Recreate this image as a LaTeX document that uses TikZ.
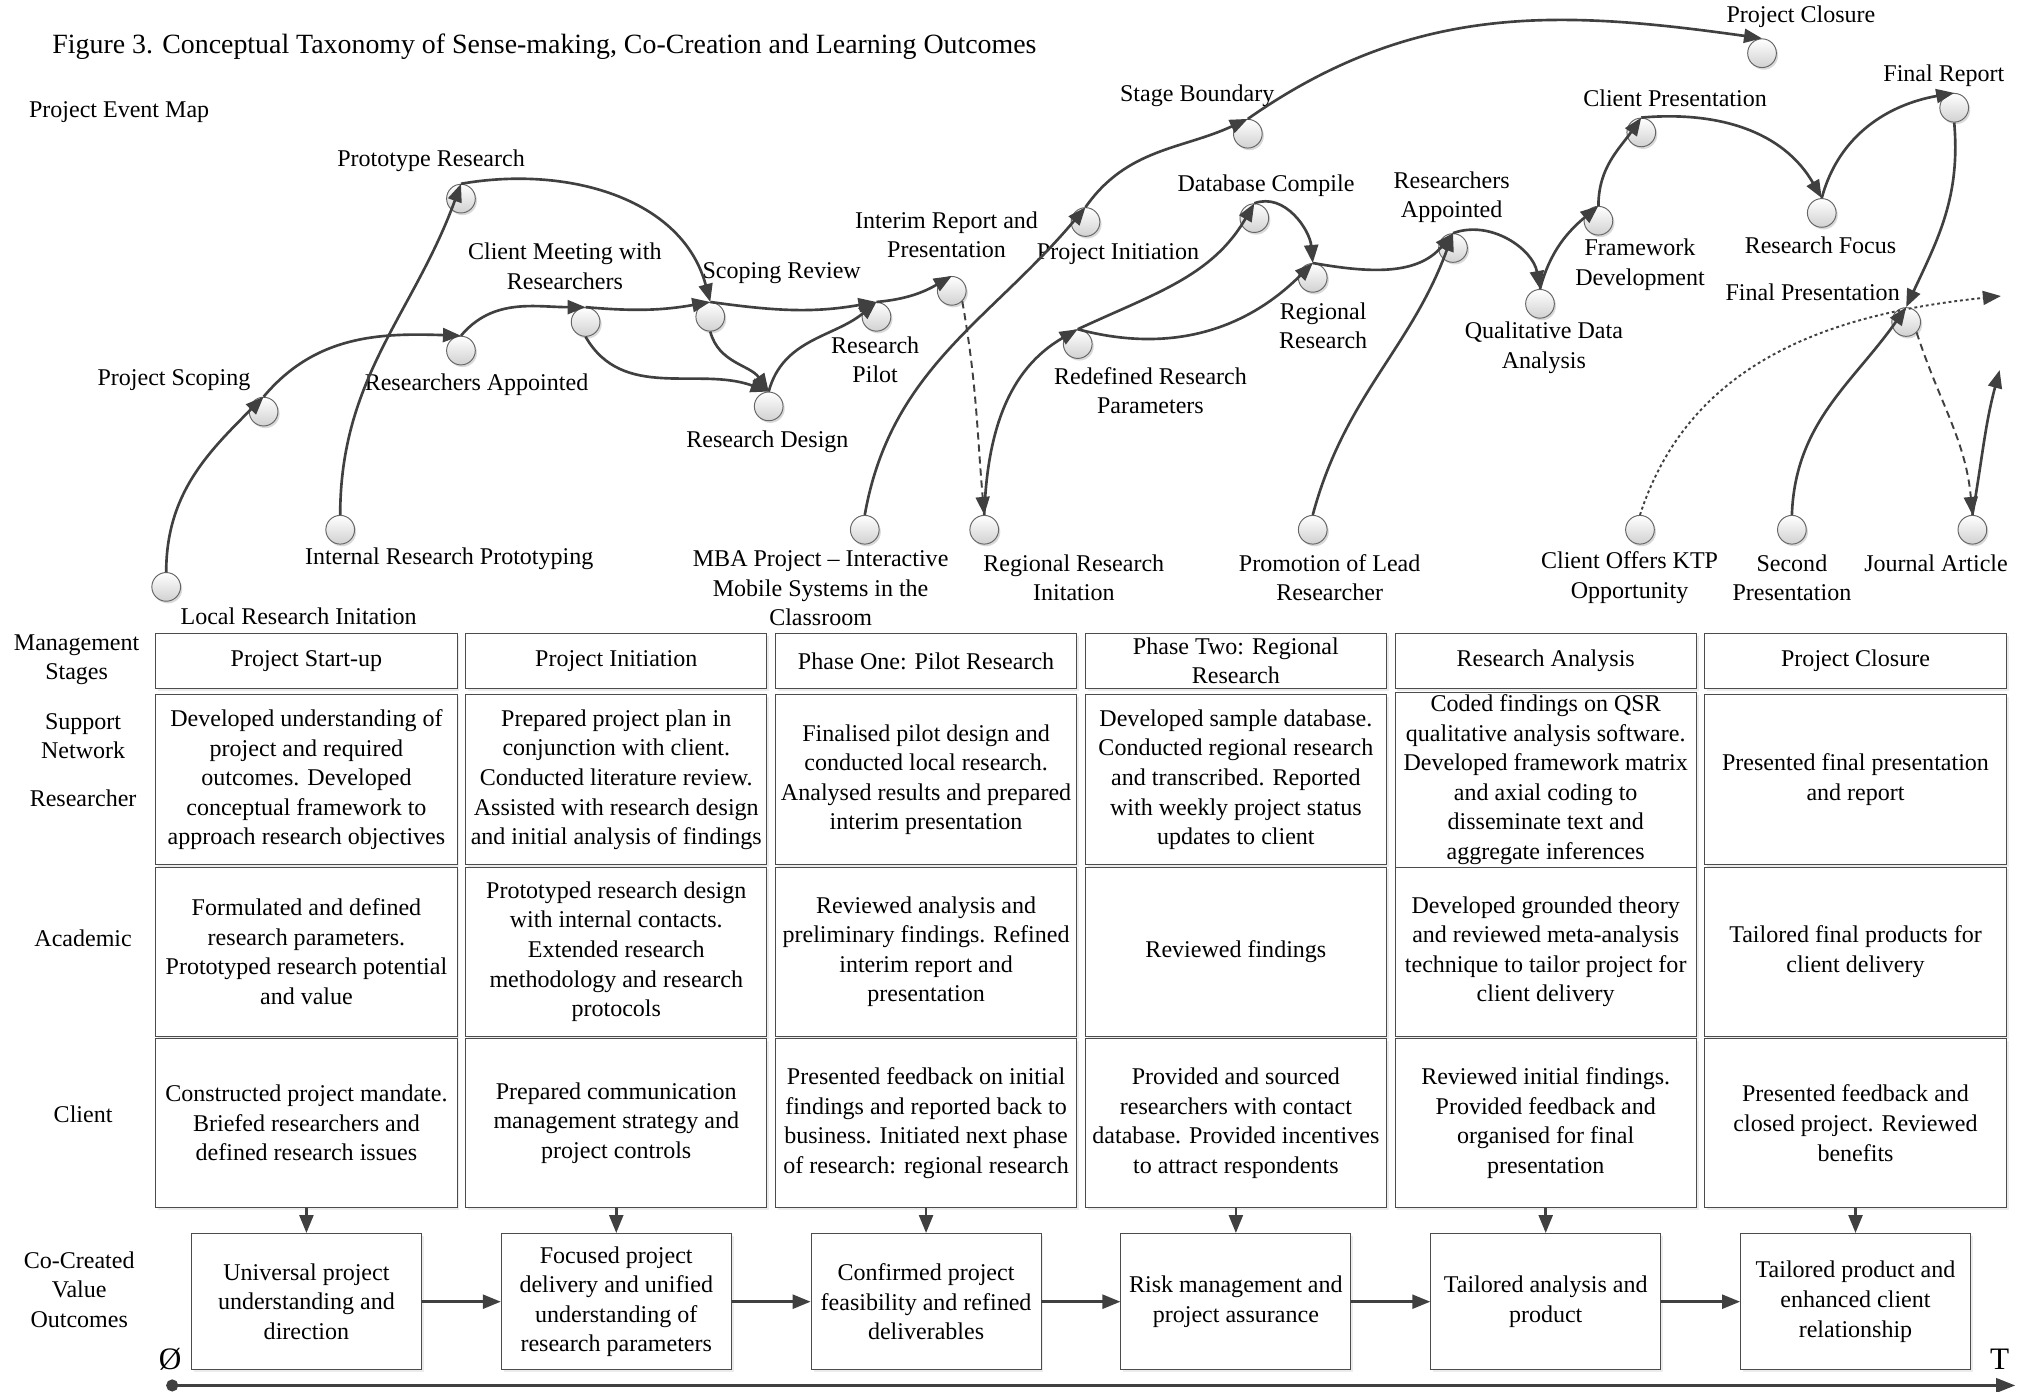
\documentclass[tikz,border=0pt]{standalone}
\usepackage{fontspec}
\setmainfont{Liberation Serif}
\usetikzlibrary{arrows.meta,shadows}

\tikzset{
  event/.style={circle, draw=black!60, minimum size=0.42cm, inner sep=0pt,
    top color=white, bottom color=black!18,
    drop shadow={shadow xshift=0.7pt, shadow yshift=-0.9pt, opacity=0.3}},
  elabel/.style={align=center, inner sep=0pt},
  link/.style={draw=black!75, line width=1.1pt, -{Triangle[length=7.5pt,width=5.8pt]}},
  dlink/.style={link, line width=0.8pt, dash pattern=on 3pt off 2pt},
  olink/.style={link, line width=0.8pt, dash pattern=on 1.2pt off 1.2pt},
  cell/.style={draw=black!70, fill=white, align=center, inner sep=1pt,
    minimum width=4.408cm,
    drop shadow={shadow xshift=1pt, shadow yshift=-1pt, opacity=0.15}},
  headcell/.style={cell, minimum height=0.798cm},
  rowcell/.style={cell, minimum height=2.48cm},
  outcome/.style={cell, minimum width=3.363cm, minimum height=1.995cm},
  rowname/.style={align=center, inner sep=0pt}
}

\begin{document}
\begin{tikzpicture}[x=0.019cm, y=0.019cm, font=\fontsize{10}{12.3}\selectfont]
\useasboundingbox (0,0) rectangle (1568,1072);

% headings
\node[anchor=west, inner sep=0pt, font=\fontsize{11.6}{14}\selectfont] (title) at (40,1036)
  {Figure 3. Conceptual Taxonomy of Sense-making, Co-Creation and Learning Outcomes};
\node[anchor=west, inner sep=0pt] (mapname) at (22,986) {Project Event Map};

% project events
\node[event] (lri) at (128,620) {};
\node[event] (psc) at (203,755) {};
\node[event] (rap) at (355,802) {};
\node[event] (prr) at (355,919) {};
\node[event] (irp) at (262,664) {};
\node[event] (cmr) at (451,824) {};
\node[event] (scr) at (547,828) {};
\node[event] (rde) at (592,759) {};
\node[event] (rpi) at (675,828) {};
\node[event] (irr) at (733,848) {};
\node[event] (mba) at (666,664) {};
\node[event] (rri) at (758,664) {};
\node[event] (pin) at (836,901) {};
\node[event] (sbo) at (961,969) {};
\node[event] (rrp) at (830,807) {};
\node[event] (dbc) at (966,904) {};
\node[event] (rre) at (1011,858) {};
\node[event] (plr) at (1011,664) {};
\node[event] (rap2) at (1119,881) {};
\node[event] (qda) at (1186,838) {};
\node[event] (fde) at (1231,902) {};
\node[event] (cpr) at (1264,970) {};
\node[event] (pcl) at (1357,1031) {};
\node[event] (rfo) at (1403,908) {};
\node[event] (fre) at (1505,989) {};
\node[event] (fpr) at (1468,824) {};
\node[event] (ktp) at (1263,664) {};
\node[event] (spr) at (1380,664) {};
\node[event] (jar) at (1519,664) {};

% event labels
\node[elabel] (lri-l) at (230,597) {Local Research Initation};
\node[elabel] (psc-l) at (134,779) {Project Scoping};
\node[elabel] (rap-l) at (367,776) {Researchers Appointed};
\node[elabel] (prr-l) at (332,948) {Prototype Research};
\node[elabel] (irp-l) at (346,642) {Internal Research Prototyping};
\node[elabel] (cmr-l) at (435,867) {Client Meeting with\\Researchers};
\node[elabel] (scr-l) at (602,862) {Scoping Review};
\node[elabel] (rde-l) at (591,732) {Research Design};
\node[elabel] (rpi-l) at (674,795) {Research\\Pilot};
\node[elabel] (irr-l) at (729,891) {Interim Report and\\Presentation};
\node[elabel] (mba-l) at (632,619) {MBA Project -- Interactive\\Mobile Systems in the\\Classroom};
\node[elabel] (rri-l) at (827,627) {Regional Research\\Initation};
\node[elabel] (pin-l) at (861,876) {Project Initiation};
\node[elabel] (sbo-l) at (922,998) {Stage Boundary};
\node[elabel] (rrp-l) at (886,771) {Redefined Research\\Parameters};
\node[elabel] (dbc-l) at (975,929) {Database Compile};
\node[elabel] (rre-l) at (1019,821) {Regional\\Research};
\node[elabel] (plr-l) at (1024,627) {Promotion of Lead\\Researcher};
\node[elabel] (rap2-l) at (1118,920) {Researchers\\Appointed};
\node[elabel] (qda-l) at (1189,804) {Qualitative Data\\Analysis};
\node[elabel] (fde-l) at (1263,868) {Framework\\Development};
\node[elabel] (cpr-l) at (1290,996) {Client Presentation};
\node[elabel] (pcl-l) at (1387,1059) {Project Closure};
\node[elabel] (rfo-l) at (1402,883) {Research Focus};
\node[elabel] (fre-l) at (1497,1014) {Final Report};
\node[elabel] (fpr-l) at (1396,847) {Final Presentation};
\node[elabel] (ktp-l) at (1255,627) {Client Offers KTP\\Opportunity};
\node[elabel] (spr-l) at (1380,627) {Second\\Presentation};
\node[elabel] (jar-l) at (1491,638) {Journal Article};

% free ends
\coordinate (ktp-end) at (1541,844);
\coordinate (jar-end) at (1540,787);

% event links
\draw[link] (lri.north) to[out=90, in=225] (psc.north);
\draw[link] (psc.north) to[out=50, in=178] (rap.north);
\draw[link] (irp.north) to[out=90, in=250] (prr.north);
\draw[link] (rap.north) to[out=50, in=180] (cmr.north);
\draw[link] (prr.north) to[out=10, in=105] (scr.north);
\draw[link] (cmr.north) to[out=-5, in=190] (scr.north);
\draw[link] (cmr.south) to[out=-60, in=160] (rde.north);
\draw[link] (scr.south) to[out=-75, in=125] (rde.north);
\draw[link] (scr.north) to[out=-8, in=190] (rpi.north);
\draw[link] (rde.north) to[out=75, in=220] (rpi.north);
\draw[link] (rpi.north) to[out=5, in=210] (irr.north);
\draw[dlink] (irr.south east) to[out=-80, in=95] (rri.north);
\draw[link] (mba.north) to[out=80, in=230] (pin.north);
\draw[link] (pin.north) to[out=55, in=205] (sbo.north);
\draw[link] (sbo.north) to[out=35, in=172] (pcl.north);
\draw[link] (rri.north) to[out=88, in=210] (rrp.north);
\draw[link] (rrp.north) to[out=25, in=240] (dbc.north);
\draw[link] (rrp.north) to[out=-15, in=225] (rre.north);
\draw[link] (dbc.north) to[out=20, in=95] (rre.north);
\draw[link] (rre.north) to[out=-10, in=230] (rap2.north);
\draw[link] (plr.north) to[out=75, in=250] (rap2.north);
\draw[link] (rap2.north) to[out=20, in=100] (qda.north);
\draw[link] (qda.north) to[out=75, in=220] (fde.north);
\draw[link] (fde.north) to[out=90, in=235] (cpr.north);
\draw[link] (cpr.north) to[out=5, in=120] (rfo.north);
\draw[link] (rfo.north) to[out=75, in=190] (fre.north);
\draw[link] (fre.south) to[out=-85, in=65] (fpr.north);
\draw[olink] (ktp.north) to[out=72, in=186] (ktp-end);
\draw[link] (spr.north) to[out=88, in=235] (fpr.north);
\draw[dlink] (fpr.south east) to[out=-72, in=95] (jar.north);
\draw[link] (jar.north) to[out=80, in=255] (jar-end);

% row names
\node[rowname] (n-stage) at (59,564) {Management\\Stages};
\node[rowname] (n-support) at (64,505) {Support\\Network};
\node[rowname] (n-res) at (64,457) {Researcher};
\node[rowname] (n-acad) at (64,349) {Academic};
\node[rowname] (n-client) at (64,214) {Client};
\node[rowname] (n-value) at (61,79) {Co-Created\\Value\\Outcomes};

% management stages
\node[headcell] (h1) at (236,563) {Project Start-up};
\node[headcell] (h2) at (474.6,563) {Project Initiation};
\node[headcell] (h3) at (713.2,563) {Phase One: Pilot Research};
\node[headcell] (h4) at (951.8,563) {Phase Two: Regional\\Research};
\node[headcell] (h5) at (1190.4,563) {Research Analysis};
\node[headcell] (h6) at (1429,563) {Project Closure};

% researcher
\node[rowcell] (r1) at (236,471.5) {Developed understanding of\\project and required\\outcomes. Developed\\conceptual framework to\\approach research objectives};
\node[rowcell] (r2) at (474.6,471.5) {Prepared project plan in\\conjunction with client.\\Conducted literature review.\\Assisted with research design\\and initial analysis of findings};
\node[rowcell] (r3) at (713.2,471.5) {Finalised pilot design and\\conducted local research.\\Analysed results and prepared\\interim presentation};
\node[rowcell] (r4) at (951.8,471.5) {Developed sample database.\\Conducted regional research\\and transcribed. Reported\\with weekly project status\\updates to client};
\node[rowcell] (r5) at (1190.4,471.5) {Coded findings on QSR\\qualitative analysis software.\\Developed framework matrix\\and axial coding to\\disseminate text and\\aggregate inferences};
\node[rowcell] (r6) at (1429,471.5) {Presented final presentation\\and report};

% academic
\node[rowcell] (a1) at (236,339) {Formulated and defined\\research parameters.\\Prototyped research potential\\and value};
\node[rowcell] (a2) at (474.6,339) {Prototyped research design\\with internal contacts.\\Extended research\\methodology and research\\protocols};
\node[rowcell] (a3) at (713.2,339) {Reviewed analysis and\\preliminary findings. Refined\\interim report and\\presentation};
\node[rowcell] (a4) at (951.8,339) {Reviewed findings};
\node[rowcell] (a5) at (1190.4,339) {Developed grounded theory\\and reviewed meta-analysis\\technique to tailor project for\\client delivery};
\node[rowcell] (a6) at (1429,339) {Tailored final products for\\client delivery};

% client
\node[rowcell] (c1) at (236,207) {Constructed project mandate.\\Briefed researchers and\\defined research issues};
\node[rowcell] (c2) at (474.6,207) {Prepared communication\\management strategy and\\project controls};
\node[rowcell] (c3) at (713.2,207) {Presented feedback on initial\\findings and reported back to\\business. Initiated next phase\\of research: regional research};
\node[rowcell] (c4) at (951.8,207) {Provided and sourced\\researchers with contact\\database. Provided incentives\\to attract respondents};
\node[rowcell] (c5) at (1190.4,207) {Reviewed initial findings.\\Provided feedback and\\organised for final\\presentation};
\node[rowcell] (c6) at (1429,207) {Presented feedback and\\closed project. Reviewed\\benefits};

% co-created value outcomes
\node[outcome] (o1) at (236,69.5) {Universal project\\understanding and\\direction};
\node[outcome] (o2) at (474.6,69.5) {Focused project\\delivery and unified\\understanding of\\research parameters};
\node[outcome] (o3) at (713.2,69.5) {Confirmed project\\feasibility and refined\\deliverables};
\node[outcome] (o4) at (951.8,69.5) {Risk management and\\project assurance};
\node[outcome] (o5) at (1190.4,69.5) {Tailored analysis and\\product};
\node[outcome] (o6) at (1429,69.5) {Tailored product and\\enhanced client\\relationship};

\draw[link] (c1.south) -- (o1.north);
\draw[link] (c2.south) -- (o2.north);
\draw[link] (c3.south) -- (o3.north);
\draw[link] (c4.south) -- (o4.north);
\draw[link] (c5.south) -- (o5.north);
\draw[link] (c6.south) -- (o6.north);

\draw[link] (o1.east) -- (o2.west);
\draw[link] (o2.east) -- (o3.west);
\draw[link] (o3.east) -- (o4.west);
\draw[link] (o4.east) -- (o5.west);
\draw[link] (o5.east) -- (o6.west);

% time axis
\coordinate (t0) at (128,5);
\coordinate (t1) at (1552,5);
\draw[draw=black!75, line width=1.1pt, {Circle[length=5pt]}-{Triangle[length=8pt,width=6pt]}] (t0) -- (t1);
\node[font=\fontsize{13}{15}\selectfont, inner sep=0pt] (tstart) at (131,25) {Ø};
\node[font=\fontsize{13}{15}\selectfont, inner sep=0pt] (tend) at (1540,25) {T};

\end{tikzpicture}
\end{document}
